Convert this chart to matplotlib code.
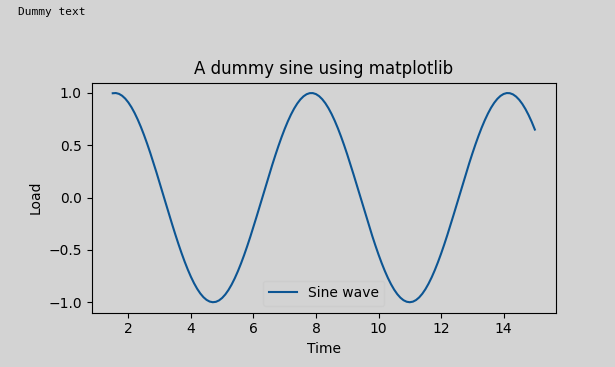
import matplotlib
matplotlib.use('Agg')
import matplotlib.pyplot as plt

# values, every 0.1 on the time axis
time = [round(1.5 + 0.1 * i, 1) for i in range(136)]
load = [0.9975, 0.9996, 0.9917, 0.9738, 0.9463, 0.9093, 0.8632, 0.8085, 0.7457, 0.6755,
        0.5985, 0.5155, 0.4274, 0.3350, 0.2392, 0.1411, 0.0416, -0.0584, -0.1577, -0.2555,
        -0.3508, -0.4425, -0.5298, -0.6119, -0.6878, -0.7568, -0.8183, -0.8716, -0.9162, -0.9516,
        -0.9775, -0.9937, -0.9999, -0.9962, -0.9825, -0.9589, -0.9258, -0.8835, -0.8323, -0.7728,
        -0.7055, -0.6313, -0.5507, -0.4646, -0.3739, -0.2794, -0.1822, -0.0831, 0.0168, 0.1165,
        0.2151, 0.3115, 0.4048, 0.4941, 0.5784, 0.6570, 0.7290, 0.7937, 0.8504, 0.8987,
        0.9380, 0.9679, 0.9882, 0.9985, 0.9989, 0.9894, 0.9699, 0.9407, 0.9022, 0.8546,
        0.7985, 0.7344, 0.6630, 0.5849, 0.5010, 0.4121, 0.3191, 0.2229, 0.1245, 0.0248,
        -0.0752, -0.1743, -0.2718, -0.3665, -0.4575, -0.5440, -0.6251, -0.6999, -0.7677, -0.8278,
        -0.8797, -0.9227, -0.9566, -0.9809, -0.9954, -1.0000, -0.9946, -0.9792, -0.9540, -0.9193,
        -0.8755, -0.8228, -0.7620, -0.6936, -0.6181, -0.5366, -0.4497, -0.3583, -0.2633, -0.1656,
        -0.0663, 0.0336, 0.1332, 0.2315, 0.3275, 0.4202, 0.5087, 0.5920, 0.6696, 0.7402,
        0.8037, 0.8595, 0.9060, 0.9437, 0.9720, 0.9906, 0.9993, 0.9980, 0.9868, 0.9657,
        0.9349, 0.8950, 0.8461, 0.7888, 0.7237, 0.6503]

bg = '#d3d3d3'
fig = plt.figure(figsize=(6.15, 3.67), dpi=100, facecolor=bg)
ax = fig.add_axes([0.149, 0.148, 0.755, 0.627], facecolor=bg)

ax.plot(time, load, color='#0c5593', lw=1.5, label='Sine wave')
ax.set_title('A dummy sine using matplotlib')
ax.set_xlabel('Time')
ax.set_ylabel('Load')
ax.legend(loc='lower center', facecolor=bg)

fig.text(18 / 615, 1 - 7 / 367, 'Dummy text', family='DejaVu Sans Mono',
         fontsize=8, va='top', ha='left')

fig.savefig('out.png', dpi=100, facecolor=bg)
